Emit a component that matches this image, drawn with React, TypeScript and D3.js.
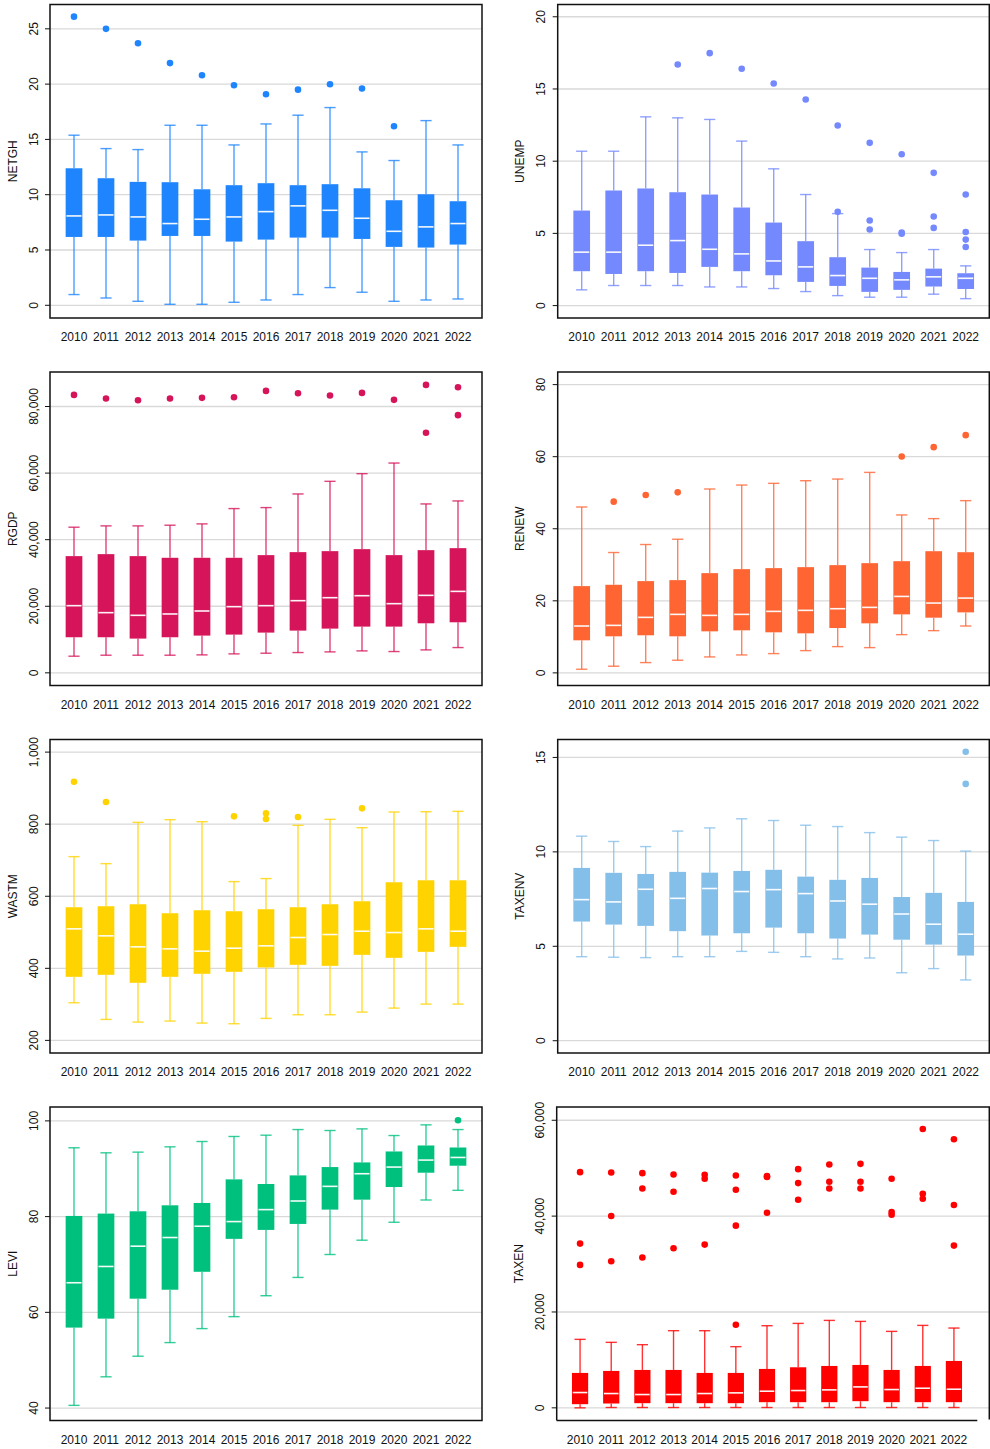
import React from 'react';
import * as d3 from 'd3';

const years = ['2010', '2011', '2012', '2013', '2014', '2015', '2016', '2017', '2018', '2019', '2020', '2021', '2022'];

// Each row: [lower whisker, Q1, median, Q3, upper whisker]
const netghStats = [
  [0.97, 6.18, 8.08, 12.39, 15.38],
  [0.66, 6.18, 8.17, 11.49, 14.17],
  [0.36, 5.85, 7.99, 11.16, 14.08],
  [0.09, 6.27, 7.39, 11.13, 16.28],
  [0.09, 6.27, 7.78, 10.49, 16.28],
  [0.27, 5.76, 7.99, 10.86, 14.5],
  [0.48, 5.94, 8.47, 11.04, 16.4],
  [0.97, 6.12, 8.99, 10.86, 17.19],
  [1.6, 6.12, 8.59, 10.95, 17.88],
  [1.18, 6.0, 7.87, 10.58, 13.87],
  [0.36, 5.28, 6.69, 9.5, 13.09],
  [0.48, 5.22, 7.09, 10.04, 16.7],
  [0.57, 5.49, 7.39, 9.41, 14.5],
];
const netghOutliers = [[26.1], [25.0], [23.7], [21.9], [20.8], [19.9], [19.09], [19.5], [19.99], [19.6], [16.19], [], []];
const netghTicks = [0, 5, 10, 15, 20, 25];

const unempStats = [
  [1.09, 2.38, 3.7, 6.58, 10.69],
  [1.39, 2.19, 3.7, 7.97, 10.69],
  [1.39, 2.38, 4.18, 8.11, 13.07],
  [1.39, 2.26, 4.5, 7.85, 13.0],
  [1.29, 2.68, 3.9, 7.69, 12.89],
  [1.29, 2.38, 3.58, 6.79, 11.39],
  [1.18, 2.1, 3.09, 5.75, 9.47],
  [0.97, 1.64, 2.68, 4.46, 7.69],
  [0.69, 1.36, 2.08, 3.35, 6.37],
  [0.58, 0.95, 1.89, 2.63, 3.88],
  [0.58, 1.09, 1.78, 2.33, 3.67],
  [0.79, 1.32, 1.99, 2.56, 3.88],
  [0.48, 1.15, 1.89, 2.24, 2.75],
];
const unempOutliers = [[], [], [], [16.7], [17.48], [16.4], [15.38], [14.27], [12.47, 6.49], [11.27, 5.89, 5.27], [10.48, 5.06, 4.97], [9.19, 6.17, 5.38], [7.69, 5.1, 4.57, 4.06]];
const unempTicks = [0, 5, 10, 15, 20];

const rgdpStats = [
  [4994, 10687, 20175, 35056, 43745],
  [5293, 10687, 18077, 35655, 44144],
  [5293, 10287, 17278, 35056, 44144],
  [5293, 10687, 17678, 34557, 44344],
  [5393, 11186, 18577, 34557, 44744],
  [5693, 11486, 19875, 34557, 49338],
  [5893, 12085, 20175, 35356, 49638],
  [6092, 12684, 21673, 36255, 53733],
  [6292, 13283, 22572, 36554, 57528],
  [6592, 13883, 23171, 37154, 59825],
  [6392, 13883, 20774, 35356, 63021],
  [6891, 14881, 23271, 36854, 50737],
  [7591, 15181, 24469, 37453, 51636],
];
const rgdpOutliers = [[83496], [82397], [81898], [82397], [82597], [82797], [84694], [83995], [83296], [84095], [81998], [86492, 72110], [85793, 77403]];
const rgdpTicks = [0, 20000, 40000, 60000, 80000];

const renewStats = [
  [1.01, 9.04, 13.01, 24.08, 46.04],
  [1.85, 10.15, 13.19, 24.45, 33.4],
  [2.86, 10.43, 15.41, 25.47, 35.62],
  [3.51, 10.15, 16.24, 25.74, 37.09],
  [4.43, 11.53, 15.96, 27.68, 51.03],
  [4.98, 11.81, 16.24, 28.79, 52.13],
  [5.35, 11.26, 17.07, 29.07, 52.6],
  [6.18, 10.98, 17.35, 29.34, 53.33],
  [7.29, 12.46, 17.81, 29.9, 53.79],
  [7.01, 13.75, 18.18, 30.45, 55.64],
  [10.61, 16.24, 21.22, 31.0, 43.83],
  [11.72, 15.32, 19.38, 33.77, 42.81],
  [13.01, 16.79, 20.76, 33.49, 47.8],
];
const renewOutliers = [[], [47.52], [49.37], [50.1], [], [], [], [], [], [], [60.07], [62.65], [65.97]];
const renewTicks = [0, 20, 40, 60, 80];

const wastmStats = [
  [304.4, 376.4, 509.5, 569.5, 709.9],
  [258.2, 382.0, 490.1, 572.3, 690.5],
  [250.8, 359.8, 459.6, 577.8, 805.1],
  [253.6, 376.4, 454.0, 552.9, 812.5],
  [248.0, 384.8, 447.6, 561.2, 806.9],
  [246.2, 390.3, 455.9, 558.4, 640.6],
  [261.0, 402.3, 462.4, 564.0, 649.0],
  [271.1, 409.7, 485.5, 569.5, 796.8],
  [271.1, 406.9, 493.8, 577.8, 813.4],
  [278.5, 437.4, 503.0, 586.1, 790.3],
  [289.6, 429.1, 499.3, 638.8, 833.7],
  [300.7, 445.7, 509.5, 644.3, 834.6],
  [300.7, 459.6, 503.0, 644.3, 835.6],
];
const wastmOutliers = [[917.8], [861.4], [], [], [], [821.7], [830.0, 814.3], [819.9], [], [843.9], [], [], []];
const wastmTicks = [200, 400, 600, 800, 1000];

const taxenvStats = [
  [4.45, 6.31, 7.47, 9.15, 10.83],
  [4.42, 6.15, 7.35, 8.89, 10.55],
  [4.4, 6.08, 8.02, 8.83, 10.28],
  [4.45, 5.8, 7.54, 8.94, 11.1],
  [4.45, 5.57, 8.06, 8.9, 11.27],
  [4.73, 5.69, 7.9, 8.99, 11.75],
  [4.68, 5.99, 8.0, 9.05, 11.66],
  [4.45, 5.69, 7.79, 8.69, 11.41],
  [4.33, 5.41, 7.4, 8.52, 11.34],
  [4.38, 5.62, 7.23, 8.62, 11.02],
  [3.6, 5.35, 6.71, 7.61, 10.78],
  [3.82, 5.09, 6.17, 7.83, 10.6],
  [3.22, 4.51, 5.64, 7.35, 10.04],
];
const taxenvOutliers = [[], [], [], [], [], [], [], [], [], [], [], [], [15.3, 13.6]];
const taxenvTicks = [0, 5, 10, 15];

const leviStats = [
  [40.56, 56.81, 66.18, 80.14, 94.38],
  [46.53, 58.68, 69.58, 80.63, 93.33],
  [50.83, 62.85, 73.82, 81.11, 93.47],
  [53.68, 64.72, 75.63, 82.36, 94.58],
  [56.6, 68.47, 77.99, 82.85, 95.69],
  [59.1, 75.35, 78.96, 87.78, 96.74],
  [63.47, 77.22, 81.46, 86.81, 97.01],
  [67.29, 78.47, 83.26, 88.61, 98.19],
  [72.08, 81.46, 86.32, 90.35, 97.99],
  [75.07, 83.54, 88.96, 91.32, 98.33],
  [78.82, 86.18, 90.35, 93.61, 96.94],
  [83.47, 89.17, 91.81, 94.86, 99.17],
  [85.49, 90.63, 92.36, 94.44, 98.19],
];
const leviOutliers = [[], [], [], [], [], [], [], [], [], [], [], [], [100.14]];
const leviTicks = [40, 60, 80, 100];

const taxenStats = [
  [0, 763, 3191, 7283, 14288],
  [69, 902, 2982, 7699, 13664],
  [69, 971, 2774, 7907, 13178],
  [69, 971, 2774, 7907, 16092],
  [69, 971, 2982, 7283, 16092],
  [69, 971, 3121, 7283, 12762],
  [69, 1179, 3468, 8115, 17132],
  [69, 1179, 3607, 8462, 17617],
  [69, 1179, 3745, 8739, 18242],
  [69, 1387, 4370, 8947, 18034],
  [69, 1179, 3815, 7907, 15953],
  [69, 1179, 4092, 8739, 17201],
  [69, 1179, 3884, 9780, 16646],
];
const taxenOutliers = [
  [49176, 34264, 29825],
  [49107, 40021, 30588],
  [48968, 45778, 31351],
  [48691, 45084, 33293],
  [48621, 47789, 34056],
  [48483, 45500, 38009, 17340],
  [48344, 48150, 40714],
  [49800, 46887, 43419],
  [50771, 47165, 45778],
  [50910, 47165, 45778],
  [47789, 40853, 40298],
  [58193, 44668, 43627],
  [56043, 42309, 33848],
];
const taxenTicks = [0, 20000, 40000, 60000];

const panels = [
  { name: 'NETGH', stats: netghStats, outliers: netghOutliers, ticks: netghTicks, domain: [-1.15, 27.2], color: '#1E85FF', row: 0, col: 0, narrow: false },
  { name: 'UNEMP', stats: unempStats, outliers: unempOutliers, ticks: unempTicks, domain: [-0.86, 20.85], color: '#7589FF', row: 0, col: 1, narrow: false },
  { name: 'RGDP', stats: rgdpStats, outliers: rgdpOutliers, ticks: rgdpTicks, domain: [-3805, 90368], color: '#D6145A', row: 1, col: 0, narrow: false },
  { name: 'RENEW', stats: renewStats, outliers: renewOutliers, ticks: renewTicks, domain: [-3.5, 83.5], color: '#FF6433', row: 1, col: 1, narrow: false },
  { name: 'WASTM', stats: wastmStats, outliers: wastmOutliers, ticks: wastmTicks, domain: [165, 1035], color: '#FFD300', row: 2, col: 0, narrow: false },
  { name: 'TAXENV', stats: taxenvStats, outliers: taxenvOutliers, ticks: taxenvTicks, domain: [-0.65, 15.95], color: '#84BFEA', row: 2, col: 1, narrow: false },
  { name: 'LEVI', stats: leviStats, outliers: leviOutliers, ticks: leviTicks, domain: [37.4, 102.9], color: '#00C07E', row: 3, col: 0, narrow: false },
  { name: 'TAXEN', stats: taxenStats, outliers: taxenOutliers, ticks: taxenTicks, domain: [-2643, 62768], color: '#FF0000', row: 3, col: 1, narrow: true },
];

const FONT = '"Liberation Sans", Arial, Helvetica, sans-serif';
const fmt = d3.format(',');

function Panel({ p }: { p: (typeof panels)[number] }) {
  const left = p.col === 0 ? 50 : p.narrow ? 556.7 : 557.7;
  const frameRight = p.col === 0 ? 482 : 989.3;
  const right = p.narrow ? 977.3 : left + 432;
  const top = 4.5 + p.row * 367.5;
  const bottom = top + 313.5;
  const x = d3.scaleLinear().domain([-0.75, 12.75]).range([left, right]);
  const y = d3.scaleLinear().domain(p.domain).range([bottom, top]);
  const boxHalf = p.narrow ? 8.1 : 8.35;
  const capHalf = 5.6;
  const midY = (top + bottom) / 2;

  return (
    <g>
      {p.ticks.map((t) => (
        <line key={'g' + t} x1={left} x2={frameRight} y1={y(t)} y2={y(t)} stroke="#D9D9D9" strokeWidth={1.3} />
      ))}
      {p.stats.map((s, i) => {
        const cx = x(i);
        const [lo, q1, med, q3, hi] = s;
        return (
          <g key={'b' + i}>
            <g stroke={p.color} strokeWidth={1.4} strokeOpacity={0.8}>
              <line x1={cx} x2={cx} y1={y(hi)} y2={y(q3)} />
              <line x1={cx} x2={cx} y1={y(q1)} y2={y(lo)} />
              <line x1={cx - capHalf} x2={cx + capHalf} y1={y(hi)} y2={y(hi)} />
              <line x1={cx - capHalf} x2={cx + capHalf} y1={y(lo)} y2={y(lo)} />
            </g>
            <rect x={cx - boxHalf} width={boxHalf * 2} y={y(q3)} height={y(q1) - y(q3)} fill={p.color} />
            <line x1={cx - boxHalf + 0.8} x2={cx + boxHalf - 0.8} y1={y(med)} y2={y(med)} stroke="#FFFFFF" strokeWidth={1.6} strokeOpacity={0.95} />
            {p.outliers[i].map((o, j) => (
              <circle key={j} cx={cx} cy={y(o)} r={3.3} fill={p.color} />
            ))}
          </g>
        );
      })}
      {p.narrow ? (
        <g fill="none" stroke="#111" strokeWidth={1.5}>
          <path d={`M${left},${bottom}V${top}H${frameRight}V${bottom - 1}`} />
          <line x1={left} x2={right} y1={bottom} y2={bottom} />
        </g>
      ) : (
        <rect x={left} y={top} width={frameRight - left} height={bottom - top} fill="none" stroke="#111" strokeWidth={1.5} />
      )}
      {p.ticks.map((t) => (
        <g key={'t' + t}>
          <line x1={left - 5} x2={left} y1={y(t)} y2={y(t)} stroke="#111" strokeWidth={1} />
          <text
            transform={`translate(${left - 12.5},${y(t)}) rotate(-90)`}
            textAnchor="middle"
            fontFamily={FONT}
            fontSize={12}
            fill="#111"
          >
            {fmt(t)}
          </text>
        </g>
      ))}
      <text
        transform={`translate(${left - 33.5},${midY}) rotate(-90)`}
        textAnchor="middle"
        fontFamily={FONT}
        fontSize={12}
        fill="#111"
      >
        {p.name}
      </text>
      {years.map((yr, i) => (
        <text key={yr} x={x(i)} y={bottom + 23} textAnchor="middle" fontFamily={FONT} fontSize={12} fill="#111">
          {yr}
        </text>
      ))}
    </g>
  );
}

export default function App() {
  return (
    <svg
      width={990}
      height={1449}
      viewBox="0 0 990 1449"
      style={{ position: 'absolute', left: 0, top: 0, background: '#fff' }}
    >
      <rect width={990} height={1449} fill="#fff" />
      {panels.map((p) => (
        <Panel key={p.name} p={p} />
      ))}
    </svg>
  );
}
